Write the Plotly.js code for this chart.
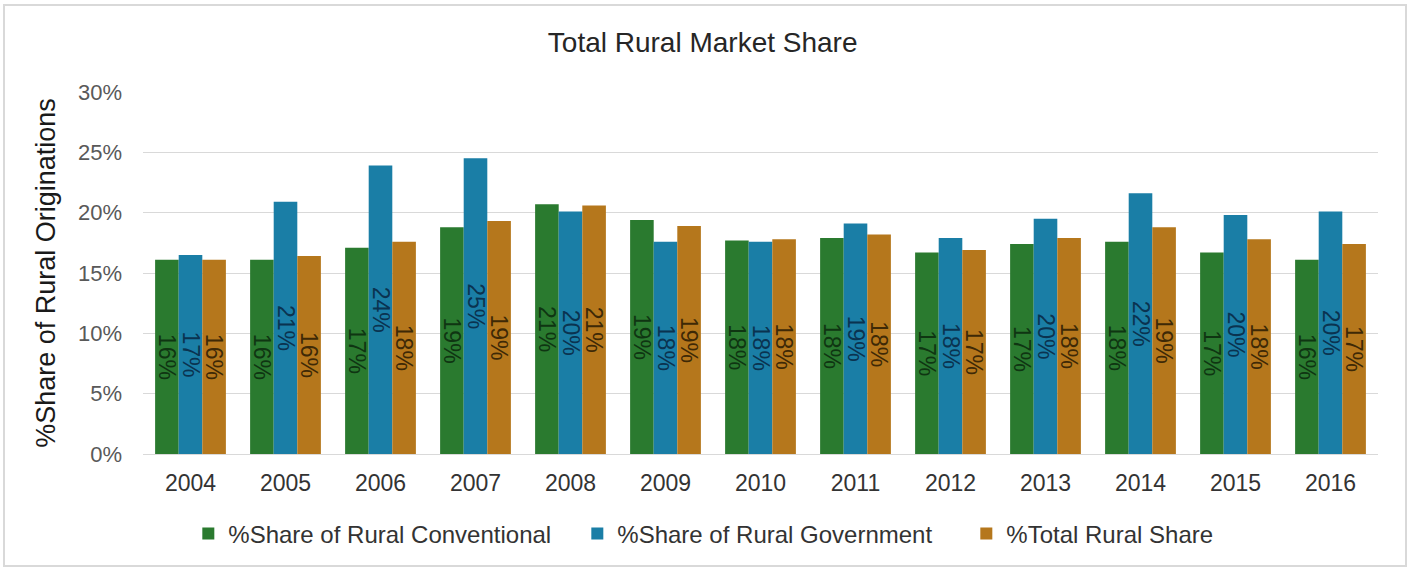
<!DOCTYPE html>
<html>
<head>
<meta charset="utf-8">
<script src="https://cdn.plot.ly/plotly-3.0.1.min.js"></script>
<style>
  html, body { margin: 0; padding: 0; background: #ffffff; }
  #chart { width: 1411px; height: 571px; }
</style>
</head>
<body>
<div id="chart"></div>
<script>
const years = ['2004','2005','2006','2007','2008','2009','2010','2011','2012','2013','2014','2015','2016'];
const conventional = [0.161, 0.161, 0.171, 0.188, 0.207, 0.194, 0.177, 0.179, 0.167, 0.174, 0.176, 0.167, 0.161];
const government   = [0.165, 0.209, 0.239, 0.245, 0.201, 0.176, 0.176, 0.191, 0.179, 0.195, 0.216, 0.198, 0.201];
const totalShare   = [0.161, 0.164, 0.176, 0.193, 0.206, 0.189, 0.178, 0.182, 0.169, 0.179, 0.188, 0.178, 0.174];
const seriesNames = ['%Share of Rural Conventional', '%Share of Rural Government', '%Total Rural Share'];
const yTickVals = [0, 0.05, 0.10, 0.15, 0.20, 0.25, 0.30];

const FONT = '"Liberation Sans", Arial, sans-serif';
const colors = ['#2A7A2F', '#1A7EA6', '#B5771C'];
const labelColors = ['#0F3512', '#0A3350', '#3E2906'];

function barTrace(name, values, i) {
  return {
    type: 'bar',
    name: name,
    x: years,
    y: values,
    marker: { color: colors[i], line: { width: 0 } },
    texttemplate: '%{y:.0%}',
    textposition: 'inside',
    insidetextanchor: 'middle',
    textangle: 90,
    constraintext: 'none',
    textfont: { family: FONT, size: 23, color: labelColors[i] },
    hoverinfo: 'x+y+name'
  };
}

const data = [
  barTrace(seriesNames[0], conventional, 0),
  barTrace(seriesNames[1], government, 1),
  barTrace(seriesNames[2], totalShare, 2)
];

const layout = {
  width: 1411,
  height: 571,
  margin: { l: 143, r: 33, t: 92, b: 117 },
  paper_bgcolor: '#ffffff',
  plot_bgcolor: '#ffffff',
  font: { family: FONT, color: '#404040' },
  barmode: 'group',
  bargap: 0.255,
  bargroupgap: 0,
  title: {
    text: 'Total Rural Market Share',
    font: { family: FONT, size: 28, color: '#262626' },
    x: 0.498, xref: 'container', xanchor: 'center',
    y: 0.926, yref: 'container', yanchor: 'middle'
  },
  xaxis: {
    type: 'category',
    showgrid: false,
    showline: true,
    linecolor: '#d9d9d9',
    linewidth: 1,
    ticks: '',
    ticklabelstandoff: 8,
    tickfont: { family: FONT, size: 23, color: '#333333' },
    zeroline: false,
    fixedrange: true
  },
  yaxis: {
    range: [0, 0.30],
    tickvals: yTickVals,
    tickformat: '.0%',
    showgrid: true,
    gridcolor: '#d9d9d9',
    gridwidth: 1,
    zeroline: false,
    showline: false,
    ticks: '',
    ticklabelstandoff: 20,
    tickfont: { family: FONT, size: 22, color: '#595959' },
    title: {
      text: '%Share of Rural Originations',
      font: { family: FONT, size: 27, color: '#1a1a1a' },
      standoff: 14
    },
    fixedrange: true
  },
  showlegend: true,
  legend: {
    orientation: 'h',
    xref: 'container',
    x: 0.547,
    xanchor: 'center',
    yref: 'container',
    y: 1 - 534 / 571,
    yanchor: 'middle',
    font: { family: FONT, size: 24, color: '#333333' },
    itemwidth: 30,
    entrywidth: 344,
    entrywidthmode: 'pixels',
    traceorder: 'normal',
    bgcolor: 'rgba(0,0,0,0)'
  },
  shapes: [{
    type: 'rect',
    xref: 'paper', yref: 'paper',
    x0: (4 - 143) / 1235, x1: (1406 - 143) / 1235,
    y0: (454 - 566) / 362, y1: (454 - 5) / 362,
    line: { color: '#d9d9d9', width: 2 },
    fillcolor: 'rgba(0,0,0,0)',
    layer: 'below'
  }]
};

Plotly.newPlot('chart', data, layout, { displayModeBar: false, staticPlot: true });
</script>
</body>
</html>
